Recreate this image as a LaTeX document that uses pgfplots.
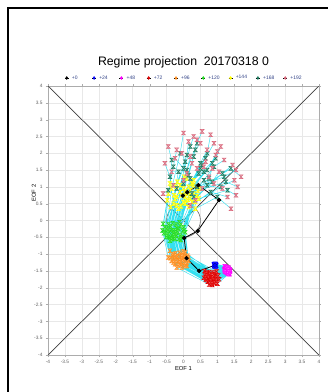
\documentclass[border=0pt]{standalone}
\usepackage{pgfplots}
\usepackage{pgfplotstable}
\pgfplotsset{compat=1.18}
\usepackage{fontspec}
\setmainfont{Liberation Sans}

\definecolor{s24}{HTML}{0000FF}
\definecolor{s48}{HTML}{FF00FF}
\definecolor{s72}{HTML}{E00000}
\definecolor{s96}{HTML}{FF8C1A}
\definecolor{s120}{HTML}{22DD22}
\definecolor{s144}{HTML}{FFFF00}
\definecolor{s168}{HTML}{1A7A5E}
\definecolor{s192}{HTML}{D9667A}
\definecolor{trail}{HTML}{33E0F0}
\definecolor{legtext}{HTML}{334488}

% hourglass-shaped member mark
\pgfdeclareplotmark{hourglass}{%
  \pgfpathmoveto{\pgfqpoint{-\pgfplotmarksize}{\pgfplotmarksize}}%
  \pgfpathlineto{\pgfqpoint{\pgfplotmarksize}{\pgfplotmarksize}}%
  \pgfpathlineto{\pgfqpoint{-\pgfplotmarksize}{-\pgfplotmarksize}}%
  \pgfpathlineto{\pgfqpoint{\pgfplotmarksize}{-\pgfplotmarksize}}%
  \pgfpathclose
  \pgfusepathqfillstroke
}

% ensemble members: step (h), EOF 1, EOF 2; members separated by nan rows
\pgfplotstableread{
t x y
24 0.92 -1.31
48 1.25 -1.40
72 0.70 -1.60
96 -0.20 -1.05
120 -0.40 -0.20
144 -0.20 0.70
168 0.10 1.50
192 0.20 1.90
nan nan nan
24 0.95 -1.34
48 1.32 -1.52
72 0.90 -1.80
96 0.00 -1.25
120 -0.20 -0.45
144 0.10 0.60
168 0.60 1.20
192 0.90 1.10
nan nan nan
24 0.90 -1.30
48 1.20 -1.45
72 0.65 -1.75
96 -0.35 -1.20
120 -0.55 -0.35
144 -0.30 0.50
168 -0.40 1.30
192 -0.55 1.70
nan nan nan
24 0.94 -1.36
48 1.35 -1.58
72 1.00 -1.88
96 0.10 -1.35
120 -0.05 -0.50
144 0.30 0.80
168 0.90 1.60
192 1.20 1.80
nan nan nan
24 0.91 -1.32
48 1.28 -1.43
72 0.78 -1.65
96 -0.10 -1.10
120 -0.30 -0.30
144 0.00 0.95
168 0.30 1.90
192 0.40 2.40
nan nan nan
24 0.96 -1.35
48 1.38 -1.50
72 0.95 -1.62
96 0.05 -0.95
120 -0.10 -0.15
144 0.25 1.10
168 0.70 2.00
192 0.80 2.55
nan nan nan
24 0.93 -1.29
48 1.22 -1.36
72 0.62 -1.50
96 -0.40 -0.90
120 -0.60 -0.10
144 -0.45 0.80
168 -0.30 1.60
192 -0.20 2.10
nan nan nan
24 0.92 -1.35
48 1.30 -1.55
72 0.85 -1.92
96 -0.05 -1.40
120 -0.25 -0.55
144 0.15 0.40
168 0.80 0.85
192 1.30 0.70
nan nan nan
24 0.95 -1.32
48 1.27 -1.47
72 0.80 -1.70
96 -0.15 -1.18
120 -0.35 -0.28
144 -0.05 0.75
168 0.45 1.40
192 0.60 1.60
nan nan nan
24 0.94 -1.33
48 1.33 -1.44
72 0.88 -1.58
96 0.00 -1.00
120 -0.15 -0.25
144 0.35 0.55
168 1.10 1.00
192 1.50 1.20
nan nan nan
24 0.91 -1.34
48 1.24 -1.50
72 0.72 -1.82
96 -0.25 -1.30
120 -0.45 -0.50
144 -0.20 0.45
168 0.00 1.10
192 0.10 1.40
nan nan nan
24 0.93 -1.36
48 1.36 -1.60
72 1.05 -1.75
96 0.15 -1.20
120 0.05 -0.35
144 0.40 1.00
168 1.20 1.30
192 1.55 1.50
nan nan nan
24 0.95 -1.30
48 1.26 -1.38
72 0.68 -1.55
96 -0.30 -1.00
120 -0.50 -0.25
144 -0.35 0.95
168 -0.10 2.00
192 0.00 2.60
nan nan nan
24 0.92 -1.33
48 1.29 -1.49
72 0.83 -1.76
96 -0.08 -1.22
120 -0.28 -0.40
144 0.05 0.70
168 0.50 1.70
192 0.70 2.10
nan nan nan
24 0.94 -1.31
48 1.31 -1.42
72 0.75 -1.63
96 -0.18 -1.08
120 -0.38 -0.18
144 -0.10 1.05
168 0.20 2.20
192 0.30 2.50
nan nan nan
24 0.93 -1.34
48 1.34 -1.53
72 0.92 -1.68
96 0.02 -1.12
120 -0.18 -0.32
144 0.20 0.90
168 0.70 1.50
192 0.95 1.95
nan nan nan
24 0.92 -1.32
48 1.21 -1.48
72 0.60 -1.70
96 -0.45 -1.10
120 -0.62 -0.30
144 -0.48 0.60
168 -0.45 0.90
192 -0.60 0.80
nan nan nan
24 0.95 -1.35
48 1.37 -1.47
72 0.98 -1.52
96 0.12 -1.05
120 0.00 -0.20
144 0.45 0.65
168 1.30 0.90
192 1.55 0.75
nan nan nan
24 0.94 -1.32
48 1.28 -1.56
72 0.80 -1.85
96 -0.12 -1.30
120 -0.32 -0.48
144 0.05 0.50
168 0.40 1.00
192 0.55 0.95
nan nan nan
24 0.93 -1.33
48 1.30 -1.46
72 0.86 -1.62
96 -0.06 -1.02
120 -0.22 -0.12
144 0.10 1.25
168 0.35 2.10
192 0.50 2.30
nan nan nan
24 0.91 -1.31
48 1.23 -1.41
72 0.66 -1.58
96 -0.28 -1.15
120 -0.48 -0.42
144 -0.25 0.65
168 0.15 1.35
192 0.25 1.70
nan nan nan
24 0.96 -1.34
48 1.35 -1.51
72 0.94 -1.78
96 0.08 -1.28
120 -0.08 -0.58
144 0.35 0.35
168 1.00 0.70
192 1.40 0.35
nan nan nan
24 0.92 -1.36
48 1.27 -1.54
72 0.76 -1.90
96 -0.20 -1.40
120 -0.40 -0.60
144 -0.15 0.35
168 0.25 0.80
192 0.35 0.60
nan nan nan
24 0.95 -1.31
48 1.33 -1.40
72 0.90 -1.55
96 -0.02 -0.92
120 -0.12 -0.05
144 0.30 1.20
168 0.95 1.85
192 1.10 2.20
nan nan nan
24 0.93 -1.30
48 1.25 -1.44
72 0.70 -1.66
96 -0.32 -1.05
120 -0.55 -0.20
144 -0.40 1.10
168 -0.35 1.80
192 -0.45 2.20
nan nan nan
24 0.94 -1.35
48 1.32 -1.59
72 0.96 -1.84
96 0.06 -1.32
120 -0.10 -0.45
144 0.25 0.55
168 0.85 1.15
192 1.05 1.45
nan nan nan
24 0.92 -1.34
48 1.26 -1.51
72 0.74 -1.72
96 -0.22 -1.18
120 -0.42 -0.35
144 -0.10 0.85
168 0.05 1.75
192 -0.05 2.00
nan nan nan
24 0.95 -1.33
48 1.36 -1.45
72 0.84 -1.60
96 -0.04 -1.06
120 -0.20 -0.22
144 0.20 0.75
168 0.60 1.45
192 0.75 1.30
nan nan nan
24 0.91 -1.33
48 1.29 -1.52
72 0.79 -1.78
96 -0.14 -1.26
120 -0.34 -0.52
144 0.00 0.55
168 0.20 1.25
192 0.00 1.20
nan nan nan
24 0.94 -1.32
48 1.31 -1.48
72 0.87 -1.69
96 -0.03 -1.15
120 -0.22 -0.36
144 0.15 1.00
168 0.55 1.65
192 0.65 1.75
nan nan nan
24 0.93 -1.32
48 1.30 -1.50
72 0.82 -1.74
96 -0.10 -1.20
120 -0.30 -0.42
144 0.05 0.88
168 0.65 1.85
192 0.90 2.30
nan nan nan
24 0.94 -1.34
48 1.27 -1.45
72 0.73 -1.62
96 -0.26 -1.08
120 -0.46 -0.28
144 -0.18 1.15
168 0.10 1.95
192 0.15 2.35
nan nan nan
24 0.92 -1.33
48 1.33 -1.55
72 0.91 -1.86
96 0.04 -1.36
120 -0.14 -0.55
144 0.38 0.72
168 1.15 1.40
192 1.45 1.65
nan nan nan
24 0.95 -1.31
48 1.24 -1.42
72 0.64 -1.64
96 -0.38 -1.12
120 -0.58 -0.38
144 -0.38 0.40
168 -0.20 0.95
192 -0.30 1.05
nan nan nan
24 0.93 -1.35
48 1.35 -1.49
72 0.97 -1.71
96 0.10 -1.16
120 -0.02 -0.30
144 0.42 0.88
168 1.25 1.15
192 1.60 1.00
nan nan nan
24 0.94 -1.33
48 1.29 -1.53
72 0.78 -1.81
96 -0.16 -1.34
120 -0.36 -0.56
144 -0.08 0.42
168 0.30 0.70
192 0.20 0.45
nan nan nan
24 0.92 -1.31
48 1.26 -1.43
72 0.69 -1.57
96 -0.24 -0.98
120 -0.44 -0.12
144 -0.22 1.00
168 0.00 1.55
192 -0.25 1.85
nan nan nan
24 0.95 -1.34
48 1.34 -1.47
72 0.89 -1.66
96 0.03 -1.09
120 -0.16 -0.26
144 0.28 1.05
168 0.85 1.70
192 1.00 2.05
nan nan nan
24 0.93 -1.32
48 1.31 -1.57
72 0.84 -1.88
96 -0.07 -1.33
120 -0.26 -0.50
144 0.12 0.62
168 0.70 1.05
192 1.15 0.95
nan nan nan
24 0.94 -1.36
48 1.23 -1.52
72 0.67 -1.77
96 -0.30 -1.25
120 -0.50 -0.48
144 -0.28 0.75
168 -0.15 1.45
192 -0.35 1.45
nan nan nan
24 0.92 -1.32
48 1.37 -1.53
72 1.02 -1.64
96 0.14 -1.10
120 0.02 -0.28
144 0.48 0.95
168 1.40 1.55
192 1.70 1.30
nan nan nan
24 0.95 -1.33
48 1.28 -1.41
72 0.77 -1.53
96 -0.12 -0.96
120 -0.32 -0.08
144 0.02 1.30
168 0.40 2.30
192 0.55 2.65
nan nan nan
24 0.93 -1.34
48 1.30 -1.51
72 0.81 -1.73
96 -0.11 -1.19
120 -0.29 -0.38
144 0.08 0.82
168 0.50 1.55
192 0.40 1.55
nan nan nan
24 0.94 -1.31
48 1.32 -1.46
72 0.85 -1.64
96 -0.05 -1.08
120 -0.24 -0.30
144 0.18 0.68
168 0.75 1.25
192 0.85 1.55
}\ens

\pgfplotsset{
  member/.style={only marks, mark=hourglass, mark size=1.9pt,
    mark options={draw=#1, fill=#1!55, line width=0.5pt}, forget plot},
  legmark/.style={only marks, mark=diamond*, mark size=1.5pt,
    mark options={draw=#1, fill=#1}},
}
\newcommand{\leg}[1]{\makebox[14pt][l]{#1}}

\begin{document}
\begin{tikzpicture}
\useasboundingbox (0,0) rectangle (328pt,392pt);
\fill[white] (0,0) rectangle (328pt,392pt);
\draw[line width=1.6pt] (8pt,0pt) -- (8pt,384pt) -- (328pt,384pt);
\begin{axis}[
  at={(48pt,37pt)}, anchor=south west,
  scale only axis, width=271pt, height=269pt,
  xmin=-4, xmax=4, ymin=-4, ymax=4,
  xtick={-4,-3.5,...,4}, ytick={-4,-3.5,...,4},
  grid=major, major grid style={gray!18, line width=0.4pt},
  axis line style={gray!65, line width=0.6pt},
  tick style={gray!65}, tick align=outside, major tick length=2pt,
  ticklabel style={font=\fontsize{4.8}{5.5}\selectfont, text=gray!75!black},
  /pgf/number format/assume math mode=true,
  /pgf/number format/.cd, fixed, precision=1, /pgfplots/.cd,
  title={Regime projection\ \ 20170318 0},
  title style={font=\fontsize{12.3}{14}\selectfont, at={(axis description cs:0.5,1)}, anchor=base, yshift=15pt},
  xlabel={EOF 1},
  xlabel style={font=\fontsize{5.8}{7}\selectfont, at={(axis description cs:0.5,0)}, anchor=base, yshift=-15pt},
  ylabel={EOF 2},
  ylabel style={font=\fontsize{5.8}{7}\selectfont, at={(axis description cs:-0.052,0.602)}, anchor=center},
  legend columns=9,
  legend style={draw=none, fill=none, at={(axis description cs:0.5,1)}, anchor=center, yshift=8pt, xshift=2pt,
    font=\fontsize{5}{6}\selectfont, text=legtext, inner sep=0pt,
    column sep=0pt, /tikz/every odd column/.append style={column sep=1pt},
    /tikz/every even column/.append style={column sep=3.9pt}},
  legend image code/.code={\path (-2pt,0pt) -- (2pt,0pt); \draw[#1] plot coordinates {(0pt,0pt)};},
]
% regime diagonals
\addplot[black!75, line width=0.7pt, forget plot] coordinates {(-4,-4) (4,4)};
\addplot[black!75, line width=0.7pt, forget plot] coordinates {(-4,4) (4,-4)};
\draw[black!60, line width=0.6pt] (axis cs:0,0) circle [radius=0.5];

% member trajectories
\addplot[trail, line width=0.45pt, unbounded coords=jump, forget plot] table[x=x, y=y] {\ens};

% members at each lead time
\addplot[member=s24,  restrict expr to domain={\thisrow{t}}{23:25}]   table[x=x, y=y] {\ens};
\addplot[member=s48,  restrict expr to domain={\thisrow{t}}{47:49}]   table[x=x, y=y] {\ens};
\addplot[member=s72,  restrict expr to domain={\thisrow{t}}{71:73}]   table[x=x, y=y] {\ens};
\addplot[member=s96,  restrict expr to domain={\thisrow{t}}{95:97}]   table[x=x, y=y] {\ens};
\addplot[member=s120, restrict expr to domain={\thisrow{t}}{119:121}] table[x=x, y=y] {\ens};
\addplot[member=s144, restrict expr to domain={\thisrow{t}}{143:145}] table[x=x, y=y] {\ens};
\addplot[member=s168, restrict expr to domain={\thisrow{t}}{167:169}] table[x=x, y=y] {\ens};
\addplot[member=s192, restrict expr to domain={\thisrow{t}}{191:193}] table[x=x, y=y] {\ens};

% control trajectory
\addplot[black, line width=0.8pt, mark=*, mark size=1.8pt, forget plot] coordinates {
  (0.93,-1.33) (0.46,-1.50) (0.09,-1.12) (0.02,-0.52) (0.42,-0.31)
  (1.05,0.61) (0.44,1.05) (0.11,0.84) (-0.02,0.74)};
\addplot[only marks, mark=*, mark size=1.8pt, s24, forget plot] coordinates {(0.93,-1.33)};

% legend
\addlegendimage{legmark=black}\addlegendentry{\leg{+0}}
\addlegendimage{legmark=s24}\addlegendentry{\leg{+24}}
\addlegendimage{legmark=s48}\addlegendentry{\leg{+48}}
\addlegendimage{legmark=s72}\addlegendentry{\leg{+72}}
\addlegendimage{legmark=s96}\addlegendentry{\leg{+96}}
\addlegendimage{legmark=s120}\addlegendentry{\leg{+120}}
\addlegendimage{legmark=s144}\addlegendentry{\leg{+144}}
\addlegendimage{legmark=s168}\addlegendentry{\leg{+168}}
\addlegendimage{legmark=s192}\addlegendentry{\leg{+192}}
\end{axis}
\end{tikzpicture}
\end{document}
